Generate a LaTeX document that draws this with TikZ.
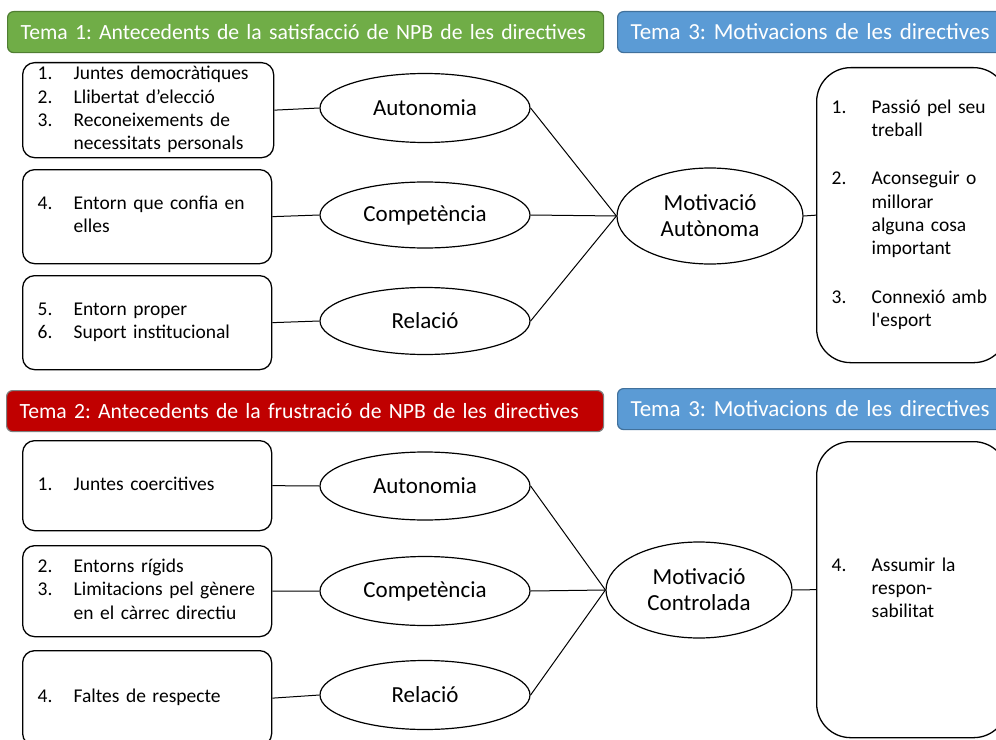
\documentclass[tikz,border=0pt]{standalone}
\usepackage{fontspec}
\setmainfont{Carlito}
\usetikzlibrary{shapes.geometric}
\frenchspacing

\definecolor{temagreen}{HTML}{70AD47}
\definecolor{temagreenline}{HTML}{507E32}
\definecolor{temablue}{HTML}{5B9BD5}
\definecolor{temablueline}{HTML}{41719C}
\definecolor{temared}{HTML}{C00000}
\definecolor{temaredline}{HTML}{7F7F7F}

\newcommand{\listfont}{\fontsize{19.5bp}{23.3bp}\selectfont}

\tikzset{
  header/.style={fill=#1, text=white, rounded corners=6bp,
    line width=1.2bp, anchor=north west, inner xsep=13bp, inner ysep=0pt,
    minimum height=41bp, align=left},
  listbox/.style={draw, rounded corners=12bp, line width=1.3bp,
    anchor=north west, inner xsep=15bp, inner ysep=0pt, align=left,
    font=\listfont},
  bigbox/.style={listbox, rounded corners=34bp},
  oval/.style={draw, ellipse, line width=1.2bp, inner sep=0pt,
    font=\fontsize{23bp}{26bp}\selectfont, align=center},
  link/.style={line width=1bp}
}

\begin{document}
\begin{tikzpicture}[x=1bp, y=-1bp]
\useasboundingbox (0,0) rectangle (996,740);

% ---------- headers ----------
\node[header=temagreen, draw=temagreenline, minimum width=596bp, text width=570bp,
  font=\fontsize{21.7bp}{26bp}\selectfont] (h1) at (7,11)
  {\mbox{Tema 1: Antecedents de la satisfacció de NPB de les directives}};
\node[header=temablue, draw=temablueline, minimum width=392bp, text width=366bp,
  font=\fontsize{23bp}{26bp}\selectfont] (h3a) at (617,11)
  {\mbox{Tema 3: Motivacions de les directives}};
\node[header=temared, draw=temaredline, minimum width=597bp, text width=571bp,
  font=\fontsize{21.7bp}{26bp}\selectfont] (h2) at (6,390)
  {\mbox{Tema 2: Antecedents de la frustració de NPB de les directives}};
\node[header=temablue, draw=temablueline, minimum width=392bp, text width=366bp,
  font=\fontsize{23bp}{26bp}\selectfont] (h3b) at (617,388)
  {\mbox{Tema 3: Motivacions de les directives}};

% ---------- satisfaction: antecedent lists ----------
\node[listbox, minimum width=251bp, minimum height=95bp, text width=221bp] (s1) at (22,62)
  {\begin{tabular}{@{}p{36bp}@{}l@{}}
   1.&Juntes democràtiques\\
   2.&Llibertat d’elecció\\
   3.&Reconeixements de\\
     &necessitats personals
   \end{tabular}};
\node[listbox, minimum width=249bp, minimum height=94bp, text width=219bp] (s2) at (22,169)
  {\begin{tabular}{@{}p{36bp}@{}l@{}}
   4.&Entorn que confia en\\
     &elles
   \end{tabular}};
\node[listbox, minimum width=249bp, minimum height=94bp, text width=219bp] (s3) at (22,275)
  {\begin{tabular}{@{}p{36bp}@{}l@{}}
   5.&Entorn proper\\
   6.&Suport institucional
   \end{tabular}};

% ---------- satisfaction: needs ----------
\node[oval, minimum width=210bp, minimum height=69bp] (sa) at (425,108) {Autonomia};
\node[oval, minimum width=210bp, minimum height=66bp] (sc) at (425,215) {Competència};
\node[oval, minimum width=210bp, minimum height=67bp] (sr) at (425,321) {Relació};

\node[oval, minimum width=186bp, minimum height=96bp] (ma) at (710,216)
  {Motivació\\Autònoma};

\node[bigbox, minimum width=191bp, minimum height=295bp, text width=161bp] (ra) at (816,67)
  {\begin{tabular}{@{}p{40bp}@{}l@{}}
   1.&Passió pel seu\\
     &treball\\[25bp]
   2.&Aconseguir o\\
     &millorar\\
     &alguna cosa\\
     &important\\[25bp]
   3.&Connexió amb\\
     &l\textquotesingle esport
   \end{tabular}};

% ---------- frustration: antecedent lists ----------
\node[listbox, minimum width=249bp, minimum height=90bp, text width=219bp] (f1) at (22,440)
  {\begin{tabular}{@{}p{36bp}@{}l@{}}
   1.&Juntes coercitives
   \end{tabular}};
\node[listbox, minimum width=249bp, minimum height=91bp, text width=219bp] (f2) at (22,545)
  {\begin{tabular}{@{}p{36bp}@{}l@{}}
   2.&Entorns rígids\\
   3.&Limitacions pel gènere\\
     &en el càrrec directiu
   \end{tabular}};
\node[listbox, minimum width=249bp, minimum height=95bp, text width=219bp] (f3) at (22,650)
  {\begin{tabular}{@{}p{36bp}@{}l@{}}
   4.&Faltes de respecte
   \end{tabular}};

% ---------- frustration: needs ----------
\node[oval, minimum width=210bp, minimum height=68bp] (fa) at (425,486) {Autonomia};
\node[oval, minimum width=210bp, minimum height=69bp] (fc) at (425,591) {Competència};
\node[oval, minimum width=210bp, minimum height=69bp] (fr) at (425,695) {Relació};

\node[oval, minimum width=186bp, minimum height=96bp] (mc) at (699,590)
  {Motivació\\Controlada};

\node[bigbox, minimum width=191bp, minimum height=296bp, text width=161bp] (rc) at (816,441)
  {\begin{tabular}{@{}p{40bp}@{}l@{}}
   4.&Assumir la\\
     &respon-\\
     &sabilitat
   \end{tabular}};

% ---------- connectors ----------
\draw[link] (s1.east) -- (sa.west);
\draw[link] (s2.east) -- (sc.west);
\draw[link] (s3.east) -- (sr.west);
\draw[link] (sa.east) -- (ma.west);
\draw[link] (sc.east) -- (ma.west);
\draw[link] (sr.east) -- (ma.west);
\draw[link] (ma.east) -- (ra.west);

\draw[link] (f1.east) -- (fa.west);
\draw[link] (f2.east) -- (fc.west);
\draw[link] (f3.east) -- (fr.west);
\draw[link] (fa.east) -- (mc.west);
\draw[link] (fc.east) -- (mc.west);
\draw[link] (fr.east) -- (mc.west);
\draw[link] (mc.east) -- (rc.west);
\end{tikzpicture}
\end{document}
